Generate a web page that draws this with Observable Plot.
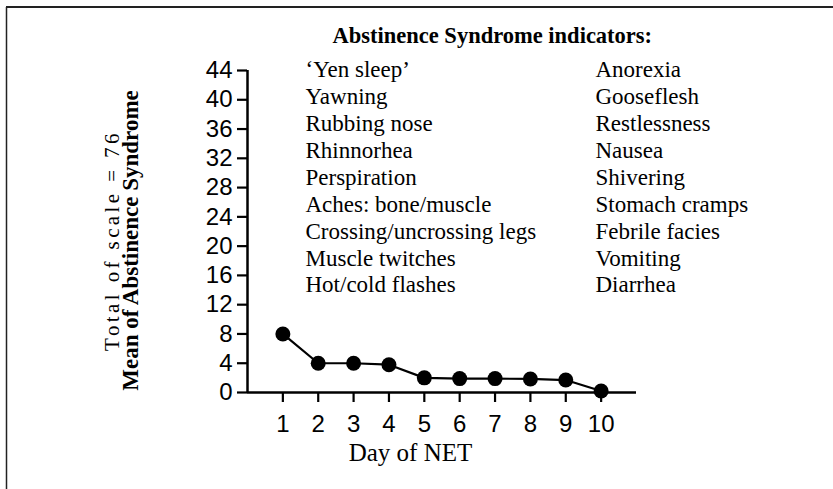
<!DOCTYPE html>
<html><head><meta charset="utf-8">
<script src="https://cdn.jsdelivr.net/npm/d3@7"></script>
<script src="https://cdn.jsdelivr.net/npm/@observablehq/plot@0.6"></script>
<style>body{margin:0;background:#fff} #chart{width:833px;height:489px}</style>
</head><body><div id="chart"></div>
<script>
const days = [1, 2, 3, 4, 5, 6, 7, 8, 9, 10];
const meanScores = [8.0, 4.0, 4.0, 3.8, 2.0, 1.9, 1.9, 1.85, 1.7, 0.2];
const yTicks = [0, 4, 8, 12, 16, 20, 24, 28, 32, 36, 40, 44];
const titleText = "Abstinence Syndrome indicators:";
const indicatorsLeft = ["\u2018Yen sleep\u2019", "Yawning", "Rubbing nose", "Rhinnorhea", "Perspiration", "Aches: bone/muscle", "Crossing/uncrossing legs", "Muscle twitches", "Hot/cold flashes"];
const indicatorsRight = ["Anorexia", "Gooseflesh", "Restlessness", "Nausea", "Shivering", "Stomach cramps", "Febrile facies", "Vomiting", "Diarrhea"];
const yLabelTop = "Total of scale = 76";
const yLabelMain = "Mean of Abstinence Syndrome";
const xLabel = "Day of NET";

const data = days.map((d, i) => ({day: d, score: meanScores[i]}));
const serif = "'Liberation Serif', 'Times New Roman', serif";

const plot = Plot.plot({
  width: 833, height: 489,
  marginLeft: 247, marginRight: 197, marginTop: 70, marginBottom: 97,
  style: {fontFamily: "'Liberation Sans', Arial, sans-serif", fontSize: "24px", background: "white", color: "black", overflow: "visible"},
  x: {domain: [0, 11], ticks: days, tickSize: 10, tickPadding: 12, tickFormat: d => String(d), label: null},
  y: {domain: [0, 44], ticks: yTicks, tickSize: 10, tickPadding: 5, tickFormat: d => String(d), label: null},
  marks: [
    Plot.ruleY([0], {strokeWidth: 2.5}),
    Plot.ruleX([0], {strokeWidth: 2.5}),
    Plot.line(data, {x: "day", y: "score", strokeWidth: 2.2, stroke: "black"}),
    Plot.dot(data, {x: "day", y: "score", r: 7.5, fill: "black", stroke: "none"}),
    Plot.text([titleText], {text: d => d, frameAnchor: "top-left", textAnchor: "start", lineAnchor: "bottom", dx: 85, dy: -28, fontFamily: serif, fontWeight: "bold", fontSize: 22.5, fill: "black"}),
    Plot.text([indicatorsLeft.join("\n")], {text: d => d, frameAnchor: "top-left", textAnchor: "start", lineAnchor: "top", lineHeight: 26.9 / 23, dx: 58, dy: -12.3, fontFamily: serif, fontSize: 23, fill: "black"}),
    Plot.text([indicatorsRight.join("\n")], {text: d => d, frameAnchor: "top-left", textAnchor: "start", lineAnchor: "top", lineHeight: 26.9 / 23, dx: 348, dy: -12.3, fontFamily: serif, fontSize: 23, fill: "black"}),
    Plot.text([xLabel], {text: d => d, frameAnchor: "bottom-left", textAnchor: "middle", lineAnchor: "bottom", dx: 163, dy: 68, fontFamily: serif, fontSize: 25, fill: "black"}),
    Plot.text([yLabelTop], {text: d => d, frameAnchor: "left", rotate: -90, textAnchor: "middle", lineAnchor: "bottom", dx: -129, dy: 9, fontFamily: serif, fontSize: 21, fill: "black"}),
    Plot.text([yLabelMain], {text: d => d, frameAnchor: "left", rotate: -90, textAnchor: "middle", lineAnchor: "bottom", dx: -110, dy: 9, fontFamily: serif, fontWeight: "bold", fontSize: 23, fill: "black"})
  ]
});

const svg = d3.select(plot);
svg.selectAll('[aria-label^="x-axis"] line, [aria-label^="x-axis"] path, [aria-label^="y-axis"] line, [aria-label^="y-axis"] path')
  .attr("stroke-width", 2.2);
svg.selectAll("text").filter(function() { return this.textContent === yLabelTop; })
  .style("letter-spacing", "3.4px");
svg.append("line").attr("x1", 6).attr("x2", 833).attr("y1", 7).attr("y2", 7).attr("stroke", "#222").attr("stroke-width", 2);
svg.append("line").attr("x1", 6.5).attr("x2", 6.5).attr("y1", 7).attr("y2", 489).attr("stroke", "#222").attr("stroke-width", 1.5);

document.getElementById("chart").appendChild(plot);
</script>
</body></html>
